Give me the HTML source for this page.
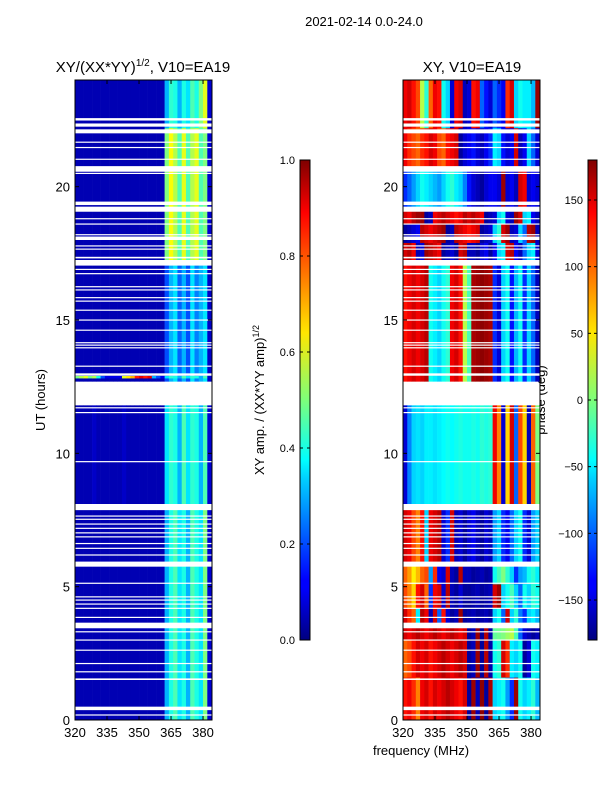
<!DOCTYPE html>
<html><head><meta charset="utf-8">
<style>
html,body{margin:0;padding:0;background:#fff;}
svg{display:block;font-family:"Liberation Sans",sans-serif;}
</style></head>
<body>
<svg id="fig" width="600" height="800" viewBox="0 0 600 800">
<defs>
<linearGradient id="jet" x1="0" y1="1" x2="0" y2="0">
<stop offset="0" stop-color="#00007f"/><stop offset="0.11" stop-color="#0000ff"/><stop offset="0.125" stop-color="#0000ff"/>
<stop offset="0.34" stop-color="#00d4ff"/><stop offset="0.375" stop-color="#00ffff" />
<stop offset="0.5" stop-color="#7dff7a"/><stop offset="0.64" stop-color="#ffe600"/>
<stop offset="0.66" stop-color="#ffd500"/><stop offset="0.89" stop-color="#ff0000"/><stop offset="1" stop-color="#7f0000"/>
</linearGradient>
</defs>
<text x="364" y="26" font-size="13" text-anchor="middle">2021-02-14 0.0-24.0</text>
<text x="143" y="72" font-size="15" text-anchor="middle">XY/(XX*YY)<tspan font-size="10" dy="-6">1/2</tspan><tspan dy="6">, V10=EA19</tspan></text>
<text x="472" y="72" font-size="15" text-anchor="middle">XY, V10=EA19</text>
<text transform="translate(45,400) rotate(-90)" font-size="13" text-anchor="middle">UT (hours)</text>
<text x="421" y="755" font-size="13" text-anchor="middle">frequency (MHz)</text>
<text transform="translate(264,400) rotate(-90)" font-size="13" text-anchor="middle">XY amp. / (XX*YY amp)<tspan font-size="9" dy="-5">1/2</tspan></text>
<text transform="translate(545,400) rotate(-90)" font-size="13" text-anchor="middle">phase (deg)</text>
<g id="ampPanel"></g>
<g id="phasePanel"></g>
<g id="axes"></g>
</svg>
<script>
// ---- data ----
const fMin = 320, fMax = 384.2, tMin = 0, tMax = 24;
const freqStep = 2;
const xTicks = [320, 335, 350, 365, 380];
const yTicks = [0, 5, 10, 15, 20];
const ampTicks = [0.0, 0.2, 0.4, 0.6, 0.8, 1.0];
const phaseTicks = [-150, -100, -50, 0, 50, 100, 150];
const L = 0.05;
const ampBandTimes = [[0,8],[8,11.8],[12.7,17.2],[17.2,22.2],[22.2,24],[12.82,12.9]];
const ampBandValues = [
 [L,L,L,L,L,L,L,L,L,L,L,L,L,L,L,L,L,L,L,L,L, 0.3,0.4,0.45,0.35,0.4,0.3,0.45,0.4,0.35,0.5,0.08],
 [L,L,L,L,0.07,L,L,L,L,L,L,0.07,L,L,L,L,L,L,L,L,L, 0.35,0.42,0.4,0.3,0.45,0.35,0.42,0.4,0.3,0.45,0.08],
 [L,L,L,L,L,L,L,L,L,L,L,L,L,L,L,L,L,L,L,L,L, 0.2,0.3,0.35,0.22,0.3,0.2,0.35,0.25,0.3,0.35,0.07],
 [L,L,L,L,L,L,L,L,L,L,L,L,L,L,L,L,L,L,L,L,L, 0.5,0.62,0.55,0.45,0.6,0.45,0.55,0.6,0.45,0.5,0.08],
 [L,L,L,L,L,L,L,L,L,L,L,L,L,L,L,L,L,L,L,L,L, 0.3,0.42,0.4,0.3,0.4,0.35,0.45,0.4,0.5,0.6,0.08],
 [0.5,0.55,0.6,0.5,0.55,0.4,0.2,0.1,0.1,0.1,0.1,0.6,0.65,0.7,0.85,0.9,0.85,0.9,0.3,0.2,0.1, 0.35,0.42,0.4,0.3,0.45,0.35,0.42,0.4,0.3,0.45,0.08]
];
const phaseBandTimes = [[0,1.6],[1.6,3.0],[3.0,3.5],[3.5,4.2],[4.2,5.1],[5.1,5.9],[5.9,8.0],[8.0,11.8],[12.7,17.2],[17.2,17.9],[17.9,18.6],[18.6,19.2],[19.2,20.7],[20.7,22.2],[22.2,24]];
const phaseBandValues = [
 [130,140,120,90,140,150,130,150,140,150,160,150,140,130,150,-170,170,-160,175,-170,165,-60,-50,-40,-80,-120,170,-40,-60,-50,-30,-70],
 [100,110,130,150,140,150,130,140,150,160,150,140,150,160,150,-170,-160,170,-170,160,-165,-40,-30,150,120,-50,-60,-40,-170,-150,-40,-50],
 [150,140,150,160,150,140,150,160,150,140,150,160,150,140,150,-170,-160,170,-170,160,-165,-10,-5,0,10,20,-20,-100,-150,-160,-170,-160],
 [150,120,100,-50,160,140,-160,150,-100,130,-150,-170,-160,170,-170,-165,-160,-170,-165,-160,-170,-60,-40,-100,150,-60,-30,-90,-120,-60,-50,-70],
 [110,90,60,130,150,100,-120,140,150,-150,160,-160,-170,-150,-170,-170,-165,-160,-170,-165,-160,150,170,-60,-40,-20,-60,-100,-40,-60,-30,-40],
 [100,80,50,70,100,110,-80,120,-140,-150,150,-160,-170,160,-160,-160,-170,-165,-160,-170,-165,-40,-20,0,-30,-60,-120,-80,-70,-40,-30,-50],
 [150,140,110,90,130,-60,140,150,160,-150,-120,150,-160,-150,-170,-150,-140,-160,-170,-150,-160,-80,-60,-120,-140,-100,-60,-40,-120,-150,-80,-60],
 [-150,-90,-60,-55,-60,-50,-50,-55,-50,-45,-40,-45,-40,-35,-40,-40,-35,-40,-30,-35,-30,140,90,-150,60,150,-100,110,60,-160,100,0],
 [130,140,150,140,150,160,-40,-50,-60,-40,-30,140,150,130,20,-20,165,170,175,170,165,-120,-150,-60,-40,-130,-70,-40,-120,-60,-100,-160],
 [150,160,140,-160,-150,170,160,150,140,-170,-160,-150,-170,150,160,-160,-160,-170,-150,-140,-170,-140,-60,-50,150,160,-140,-160,-100,-60,-50,-150],
 [-170,-160,-150,-140,160,150,140,150,160,170,-170,-160,160,150,140,130,140,150,-170,-160,-150,-60,-30,150,170,-160,-150,-60,-100,160,170,-160],
 [150,140,160,170,170,-170,-160,140,150,160,150,140,130,140,160,150,160,150,140,-170,-160,-150,-60,-40,-150,-160,170,150,-60,-50,-140,-160],
 [-120,-100,-80,-60,-40,-50,-60,-70,-80,-60,-40,-30,-50,-60,-90,-130,-150,-160,-170,-150,-140,-140,-150,170,-150,-140,-160,150,140,-150,-140,-150],
 [140,120,110,100,120,130,150,140,110,100,130,140,150,-170,-150,-140,-130,-150,-160,-140,-120,-50,-60,-130,-150,-140,150,-160,-140,-60,-100,-150],
 [140,150,130,110,20,-30,100,140,130,-40,-60,-150,140,150,-160,-150,130,140,-100,-130,-150,-100,-120,-140,120,150,-60,-40,-50,-50,-70,170]
];
const flagged = [[22.48,22.57],[22.25,22.37],[22.0,22.15],[21.65,21.69],[21.45,21.49],[21.01,21.05],[20.56,20.77],[20.48,20.52],[19.31,19.44],[19.06,19.25],[18.78,18.82],[18.58,18.62],[18.18,18.22],[18.0,18.13],[17.76,17.8],[17.64,17.68],[17.31,17.37],[17.04,17.25],[16.88,16.92],[16.72,16.76],[16.23,16.27],[16.11,16.15],[15.82,15.86],[15.69,15.73],[15.35,15.39],[14.98,15.02],[14.6,14.64],[14.13,14.17],[14.04,14.08],[13.94,13.98],[13.25,13.29],[12.91,13.0],[11.81,12.64],[11.69,11.73],[11.51,11.55],[9.67,9.71],[7.87,8.1],[7.63,7.67],[7.51,7.55],[7.33,7.37],[7.17,7.21],[7.0,7.04],[6.85,6.89],[6.6,6.64],[6.42,6.46],[6.17,6.21],[5.75,5.94],[5.11,5.15],[4.6,4.64],[4.48,4.52],[4.33,4.37],[4.17,4.21],[3.83,3.87],[3.44,3.65],[3.29,3.33],[2.98,3.02],[2.6,2.64],[2.1,2.14],[1.79,1.83],[1.5,1.56],[0.37,0.5],[0.17,0.21]];

// ---- layout ----
const panels = [{x0:75, x1:212, id:'ampPanel'}, {x0:403, x1:540, id:'phasePanel'}];
const yTop = 80, yBot = 720;
const NS = 'http://www.w3.org/2000/svg';
function yScale(t){ return yBot - (t - tMin) / (tMax - tMin) * (yBot - yTop); }
function xScaleFor(p){ return f => p.x0 + (f - fMin) / (fMax - fMin) * (p.x1 - p.x0); }
function jet(v){
  v = Math.max(0, Math.min(1, v));
  const c = a => Math.round(255 * Math.max(0, Math.min(1, 1.5 - Math.abs(4 * v - a))));
  return `rgb(${c(3)},${c(2)},${c(1)})`;
}
function mk(tag, attrs, parent){
  const e = document.createElementNS(NS, tag);
  for (const k in attrs) e.setAttribute(k, attrs[k]);
  parent.appendChild(e); return e;
}
function drawBands(p, times, values, norm){
  const g = document.getElementById(p.id);
  const xs = xScaleFor(p);
  times.forEach((tr, bi) => {
    values[bi].forEach((v, ci) => {
      const f0 = fMin + ci * freqStep, f1 = Math.min(fMax, f0 + freqStep);
      if (f0 >= fMax) return;
      const r = mk('rect', {x: xs(f0), y: yScale(tr[1]), width: xs(f1) - xs(f0) + 0.3, height: yScale(tr[0]) - yScale(tr[1]) + 0.3, fill: jet(norm(v))}, g);
      
      
    });
  });
  flagged.forEach(fr => {
    const r = mk('rect', {x: p.x0, y: yScale(fr[1]), width: p.x1 - p.x0, height: Math.max(1.2, yScale(fr[0]) - yScale(fr[1])), fill: '#fff'}, g);
    
    
  });
}
drawBands(panels[0], ampBandTimes, ampBandValues, v => v);
drawBands(panels[1], phaseBandTimes, phaseBandValues, v => (v + 180) / 360);

const ax = document.getElementById('axes');
panels.forEach((p, pi) => {
  const xs = xScaleFor(p);
  const fr = mk('rect', {x: p.x0, y: yTop, width: p.x1 - p.x0, height: yBot - yTop, fill: 'none', stroke: '#000', 'stroke-width': 1}, ax);
  
  
  xTicks.forEach(t => {
    const x = xs(t);
    mk('line', {x1: x, x2: x, y1: yBot, y2: yBot - 4, stroke: '#000'}, ax);
    mk('line', {x1: x, x2: x, y1: yTop, y2: yTop + 4, stroke: '#000'}, ax);
    const tx = mk('text', {x: x, y: yBot + 17, 'font-size': 13, 'text-anchor': 'middle'}, ax);
    tx.textContent = t;
    
    
  });
  yTicks.forEach(t => {
    const y = yScale(t);
    mk('line', {x1: p.x0, x2: p.x0 + 4, y1: y, y2: y, stroke: '#000'}, ax);
    mk('line', {x1: p.x1, x2: p.x1 - 4, y1: y, y2: y, stroke: '#000'}, ax);
    const tx = mk('text', {x: p.x0 - 5, y: y + 5, 'font-size': 13, 'text-anchor': 'end'}, ax);
    tx.textContent = t;
    
    
  });
});
// colorbars
const cbs = [{x: 300, w: 10, ticks: ampTicks, lo: 0, hi: 1, fmt: v => v.toFixed(1), name: 'amp-colorbar'},
             {x: 588, w: 9, ticks: phaseTicks, lo: -180, hi: 180, fmt: v => v < 0 ? '\u2212' + Math.abs(v) : '' + v, name: 'phase-colorbar'}];
const cbTop = 160, cbBot = 640;
cbs.forEach(cb => {
  const r = mk('rect', {x: cb.x, y: cbTop, width: cb.w, height: cbBot - cbTop, fill: 'url(#jet)', stroke: '#000', 'stroke-width': 1}, ax);
  
  
  cb.ticks.forEach(t => {
    const y = cbBot - (t - cb.lo) / (cb.hi - cb.lo) * (cbBot - cbTop);
    mk('line', {x1: cb.x, x2: cb.x + 3, y1: y, y2: y, stroke: '#000'}, ax);
    mk('line', {x1: cb.x + cb.w, x2: cb.x + cb.w - 3, y1: y, y2: y, stroke: '#000'}, ax);
    const tx = mk('text', {x: cb.x - 5, y: y + 4, 'font-size': 11, 'text-anchor': 'end'}, ax);
    tx.textContent = cb.fmt(t);
    
    
  });
});
</script>
</body></html>
